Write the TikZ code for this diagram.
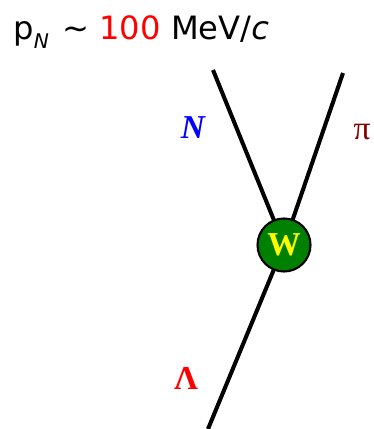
\documentclass[tikz,border=0pt]{standalone}
\usepackage{fontspec}
\usepackage{xcolor}
\usepackage{tikz}
\setmainfont{Liberation Serif}
\newfontfamily\titlefont{DejaVu Sans}
\definecolor{vtxGreen}{HTML}{008000}
\definecolor{vtxYellow}{HTML}{FFFF00}
\definecolor{lblBlue}{HTML}{0000FF}
\definecolor{lblRed}{HTML}{FF0000}
\definecolor{lblMaroon}{HTML}{800000}
\usetikzlibrary{positioning,calc}

\begin{document}
\begin{tikzpicture}[
  x=0.02cm, y=-0.02cm,
  leg/.style={line width=2.3pt, black},
  vertex/.style={circle, draw=black, line width=1.2pt, fill=vtxGreen, minimum size=1.06cm, inner sep=0pt, text=vtxYellow, font=\fontsize{19}{20}\selectfont\bfseries},
  plabel/.style={font=\fontsize{19}{20}\selectfont}
]
\useasboundingbox (0,0) rectangle (374,429);

% Title
\node[anchor=base west, inner sep=0pt, font=\titlefont\fontsize{18.3}{20}\selectfont] (title) at (13,40)
  {p\raisebox{-0.25em}{\fontsize{11.5}{12}\selectfont\itshape N}\hspace{0.1em} \char`\~{} \textcolor{lblRed}{100} MeV/\textit{c}};

% Legs (drawn under the vertex)
\coordinate (ntop) at (213,70);
\coordinate (pitop) at (343,73);
\coordinate (lbot) at (208,429);
\coordinate (wc) at (284,245);
\draw[leg] (ntop) -- (wc);
\draw[leg] (pitop) -- (wc);
\draw[leg] (lbot) -- (wc);

% Weak vertex
\node[vertex] (w) at (wc) {W};

% Particle labels
\node[plabel, text=lblBlue] (nlab) at (193,128) {\bfseries\itshape N};
\node[plabel, text=lblMaroon] (pilab) at (362,132) {π};
\node[plabel, text=lblRed] (llab) at (186,378) {\bfseries Λ};

\end{tikzpicture}
\end{document}
